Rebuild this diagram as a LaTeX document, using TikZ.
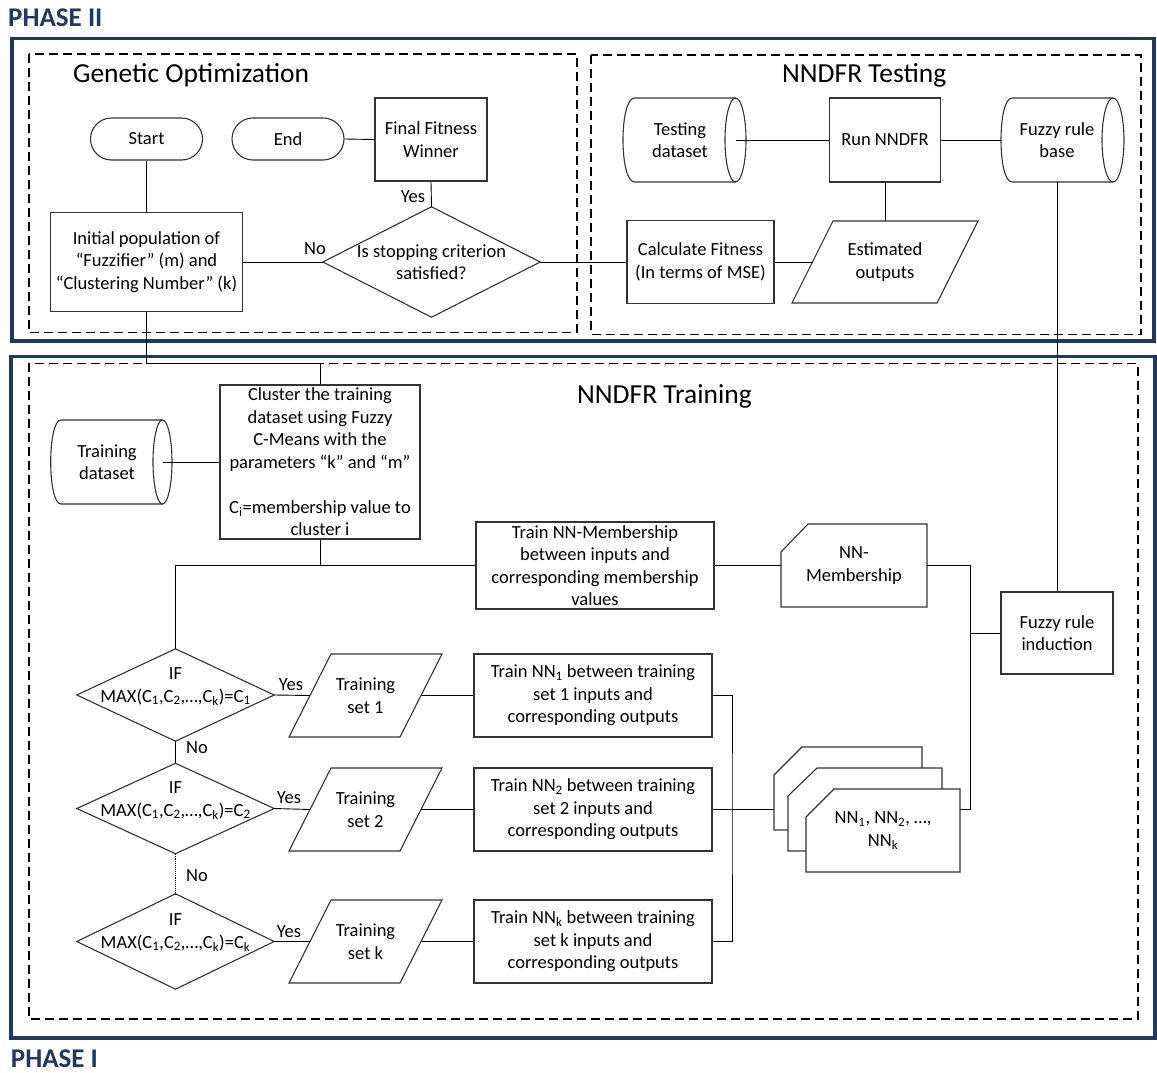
\documentclass[tikz,border=0pt]{standalone}
\usepackage{fontspec}
\setmainfont{Carlito}
\usetikzlibrary{calc}
\definecolor{navy}{RGB}{31,56,100}
\newcommand\myfs{\fontsize{18.5}{22.5}\selectfont}
\newcommand\mypgram[5]{\draw[shp] (#1+#5,#2) -- (#3,#2) -- (#3-#5,#4) -- (#1,#4) -- cycle;}
\newcommand\mycard[6]{\draw[shp,fill=white] (#1+#5,#2) -- (#3,#2) -- (#3,#4) -- (#1,#4) -- (#1,#2+#6) -- cycle;}
\newcommand\mycyl[8]{%
 \draw[shp] (#3-#6,#2) -- (#1+#5,#2) .. controls (#1-0.333*#5,#2) and (#1-0.333*#5,#4) .. (#1+#5,#4) -- (#3-#6,#4);
 \draw[shp] (#3-#6,#7) ellipse [x radius=#6pt, y radius=#8pt];}
\begin{document}
\begin{tikzpicture}[x=1pt,y=-1pt,
 shp/.style={draw=black!80, line width=1.1pt},
 conn/.style={draw=black, line width=0.9pt},
 box/.style={shp, rectangle, inner sep=0pt, align=center, font=\myfs},
 plain/.style={rectangle, inner sep=0pt, align=center, font=\myfs},
 term/.style={box, rounded corners=21pt, minimum width=112pt, minimum height=42pt},
 lbl/.style={font=\myfs, inner sep=0pt},
 frame/.style={draw=navy, line width=3.2pt},
 dbox/.style={draw=black, line width=1.6pt, dash pattern=on 9pt off 5pt},
 title/.style={font=\fontsize{27.5}{33}\selectfont, inner sep=0pt, anchor=base west},
 phase/.style={font=\fontsize{27}{32}\selectfont\bfseries, text=navy, inner sep=0pt, anchor=base west}]
\useasboundingbox (0,0) rectangle (1157,1073);
\fill[white] (0,0) rectangle (1157,1073);
% frames
\draw[frame] (12,38.3) rectangle (1154,341);
\draw[frame] (11,356.7) rectangle (1155,1038);
\draw[dbox] (28.7,54) rectangle (577,332.3);
\draw[dbox] (591,55) rectangle (1141,334.3);
\draw[dbox] (29,363.3) rectangle (1138,1019);
% titles
\node[phase] (ph2) at (8,27) {PHASE II};
\node[phase] (ph1) at (10.7,1067.5) {PHASE I};
\node[title] (tgen) at (73,83) {Genetic Optimization};
\node[title] (ttest) at (782,83) {NNDFR Testing};
\node[title] (ttrain) at (577,403) {NNDFR Training};
% shapes drawn directly
\mycyl{623}{98}{746}{182}{11.5}{10.5}{140}{42}
\mycyl{1001}{98}{1124}{182}{11}{11}{140}{42}
\mycyl{50.7}{420}{172}{504}{10.3}{9.5}{462}{42}
\mypgram{792}{221}{978}{303}{41}
\mypgram{289}{654}{442}{737}{42}
\mypgram{289}{768}{442}{851}{42}
\mypgram{289}{900}{442}{983}{42}
\mycard{781}{524}{927}{607}{27}{28}
\mycard{774}{747}{922}{830}{28}{28}
\mycard{788}{768}{942}{851}{29}{28}
\mycard{806}{789}{960}{872}{28}{28}
% Phase II nodes
\node[term] (start) at (146.5,139) {Start};
\node[term] (end) at (288,139) {End};
\node[box, minimum width=112pt, minimum height=83pt] (final) at (431,139.5) {Final Fitness\\Winner};
\node[plain, minimum width=217pt, minimum height=110pt] (stop) at (431.5,262) {Is stopping criterion\\satisfied?};
\draw[shp] (stop.west) -- (stop.north) -- (stop.east) -- (stop.south) -- cycle;
\node[box, minimum width=192pt, minimum height=99pt] (init) at (146.5,262) {Initial population of\\“Fuzzifier” (m) and\\“Clustering Number” (k)};
\node[plain, minimum width=123pt, minimum height=84pt] (testds) at (684.5,140) {};
\node[plain] (testdst) at (680,140) {Testing\\dataset};
\coordinate (testdse) at (735.5,140);
\node[box, minimum width=111.5pt, minimum height=84pt] (run) at (885,140) {Run NNDFR};
\node[plain, minimum width=123pt, minimum height=84pt] (fzbase) at (1062.5,140) {};
\node[plain] (fzbaset) at (1057,140) {Fuzzy rule\\base};
\node[box, minimum width=147pt, minimum height=83pt] (calc) at (700.5,262) {Calculate Fitness\\(In terms of MSE)};
\node[plain, minimum width=186pt, minimum height=82pt] (est) at (885,262) {Estimated\\outputs};
\coordinate (estl) at (812.5,262);
% Phase I nodes
\node[plain, minimum width=121.3pt, minimum height=84pt] (trainds) at (111.35,462) {};
\node[plain] (traindst) at (107,462) {Training\\dataset};
\coordinate (traindse) at (162.5,462);
\node[box, minimum width=200pt, minimum height=154pt] (cluster) at (320,462) {Cluster the training\\dataset using Fuzzy\\C-Means with the\\parameters “k” and “m”\\[22.5pt]C\textsubscript{i}=membership value to\\cluster i};
\node[box, minimum width=238pt, minimum height=87pt] (nnm) at (595,565.5) {Train NN-Membership\\between inputs and\\corresponding membership\\values};
\node[plain, minimum width=146pt, minimum height=83pt] (nnmem) at (854,565.5) {NN-\\Membership};
\node[box, minimum width=112pt, minimum height=82pt] (induct) at (1057,633) {Fuzzy rule\\induction};
% decisions
\node[plain, minimum width=197pt, minimum height=92pt] (d1) at (175.5,695) {};
\node[plain, minimum width=197pt, minimum height=90pt] (d2) at (175.5,808.5) {};
\node[plain, minimum width=197pt, minimum height=95pt] (d3) at (175.5,941.5) {};
\foreach \d in {d1,d2,d3}{\draw[shp] (\d.west) -- (\d.north) -- (\d.east) -- (\d.south) -- cycle;}
\node[plain] (d1t) at (175.5,686.5) {IF\\MAX(C\textsubscript{1},C\textsubscript{2},…,C\textsubscript{k})=C\textsubscript{1}};
\node[plain] (d2t) at (175.5,800.5) {IF\\MAX(C\textsubscript{1},C\textsubscript{2},…,C\textsubscript{k})=C\textsubscript{2}};
\node[plain] (d3t) at (175.5,932.5) {IF\\MAX(C\textsubscript{1},C\textsubscript{2},…,C\textsubscript{k})=C\textsubscript{k}};
% training sets
\node[plain, minimum width=153pt, minimum height=83pt] (ts1) at (365.5,695.5) {Training\\set 1};
\node[plain, minimum width=153pt, minimum height=83pt] (ts2) at (365.5,809.5) {Training\\set 2};
\node[plain, minimum width=153pt, minimum height=83pt] (tsk) at (365.5,941.5) {Training\\set k};
\coordinate (ts1l) at (310,695.5); \coordinate (ts1r) at (421,695.5);
\coordinate (ts2l) at (310,809.5); \coordinate (ts2r) at (421,809.5);
\coordinate (tskl) at (310,941.5); \coordinate (tskr) at (421,941.5);
% NN boxes
\node[box, minimum width=238pt, minimum height=83pt] (nn1) at (593,695.5) {Train NN\textsubscript{1} between training\\set 1 inputs and\\corresponding outputs};
\node[box, minimum width=238pt, minimum height=83pt] (nn2) at (593,809.5) {Train NN\textsubscript{2} between training\\set 2 inputs and\\corresponding outputs};
\node[box, minimum width=238pt, minimum height=83pt] (nnk) at (593,941.5) {Train NN\textsubscript{k} between training\\set k inputs and\\corresponding outputs};
\node[plain, minimum width=148pt, minimum height=83pt] (nnback) at (848,788.5) {};
\node[plain, minimum width=154pt, minimum height=83pt] (stack) at (883,830.5) {NN\textsubscript{1}, NN\textsubscript{2}, …,\\NN\textsubscript{k}};
% connectors Phase II
\draw[conn] (start.south) -- (init.north);
\draw[conn] (end.east) -- (final.west);
\draw[conn] (final.south) -- (stop.north);
\draw[conn] (init.east) -- (stop.west);
\draw[conn] (stop.east) -- (calc.west);
\draw[conn] (testdse) -- (run.west);
\draw[conn] (run.east) -- (fzbase.west);
\draw[conn] (run.south) -- (est.north);
\draw[conn] (calc.east) -- (estl);
\draw[conn] (induct.north) -- (induct.north |- fzbase.south);
\draw[conn] (init.south) -- ++(0,51.3) -| (cluster.north);
% connectors Phase I
\draw[conn] (traindse) -- (cluster.west);
\coordinate (j1) at (cluster.south |- nnm.west);
\draw[conn] (cluster.south) -- (j1) -- (nnm.west);
\draw[conn] (j1) -| (d1.north);
\draw[conn] (nnm.east) -- (nnmem.west);
\coordinate (jr) at (970,809.5);
\draw[conn] (nnmem.east) -| (jr) -- (jr -| stack.east);
\draw[conn] (induct.west) -- (induct.west -| jr);
\draw[conn] (d1.east) -- (ts1l);
\draw[conn] (d2.east) -- (ts2l);
\draw[conn] (d3.east) -- (tskl);
\draw[conn] (ts1r) -- (nn1.west);
\draw[conn] (ts2r) -- (nn2.west);
\draw[conn] (tskr) -- (nnk.west);
\draw[conn] (d1.south) -- (d2.north);
\draw[conn, densely dotted] (d2.south) -- (d3.north);
\coordinate (jl) at (732,809.5);
\draw[conn] (nn1.east) -| (jl) |- (nnk.east);
\draw[conn] (nn2.east) -- (nn2.east -| nnback.west);
% labels
\node[lbl] (yes0) at (413,197) {Yes};
\node[lbl] (no0) at (315,249) {No};
\node[lbl] (yes1) at (291,685) {Yes};
\node[lbl] (yes2) at (289,798) {Yes};
\node[lbl] (yes3) at (289,932) {Yes};
\node[lbl] (no1) at (197,748) {No};
\node[lbl] (no2) at (197,876) {No};
\end{tikzpicture}
\end{document}
